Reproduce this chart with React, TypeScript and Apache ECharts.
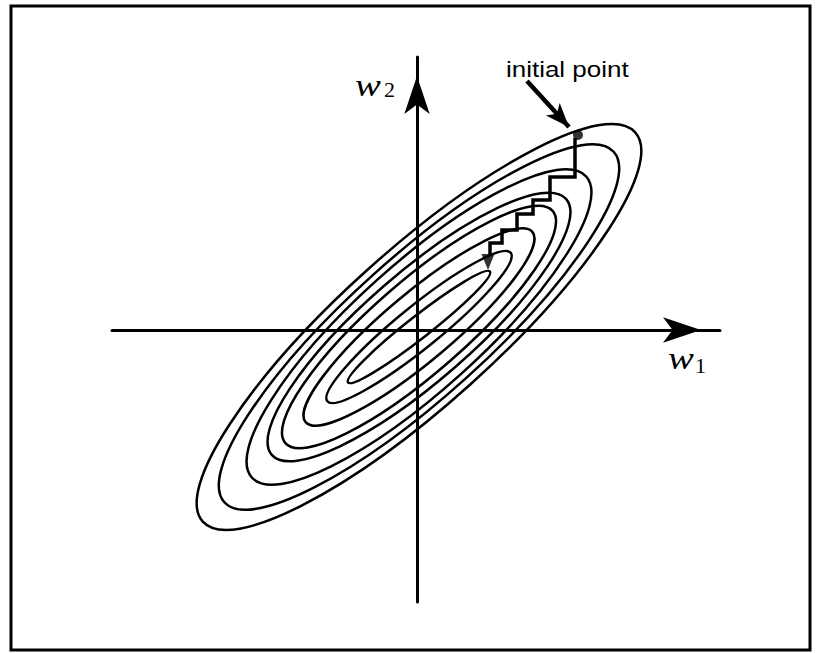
import React, { useEffect, useRef } from "react";
import * as echarts from "echarts";

// Error-surface contours: semi-major, semi-minor (axis units) and tilt (degrees)
const contourMajor = [291, 262, 225, 195, 177, 148, 118, 90];
const contourMinor = [77, 69.5, 63, 54, 46, 34, 21, 11];
const contourTilt = [42, 42, 42, 41, 41, 40, 39, 38];
const contourCenter = [2, 3];

// Successive line searches: alternate moves along w2 and w1
const pathW1 = [158, 158, 133, 133, 116, 116, 100, 100, 85, 85, 73, 73];
const pathW2 = [192, 153, 153, 130, 130, 116, 116, 100, 100, 87, 87, 75];
const pathEnd = [71, 68];
const initialPoint = [161, 195];
const pointerFrom = [110, 249];
const pointerTo = [152, 203];

// Extent of the w1 / w2 axes
const w1Range = [-305, 303];
const w2Range = [-272, 273];

const serif = "'Liberation Serif', 'Times New Roman', serif";
const sans = "'Liberation Sans', Arial, sans-serif";

export default function App() {
  const ref = useRef<HTMLDivElement>(null);

  useEffect(() => {
    if (!ref.current) return;
    const chart = echarts.init(ref.current, undefined, { renderer: "svg" });

    const contours = contourMajor.map((a, i) => [a, contourMinor[i], contourTilt[i]]);
    const path = pathW1.map((x, i) => [x, pathW2[i]]);

    const axisCommon = {
      type: "value" as const,
      axisTick: { show: false },
      axisLabel: { show: false },
      splitLine: { show: false },
    };

    chart.setOption({
      animation: false,
      backgroundColor: "#fff",
      grid: { left: 112, right: 98, top: 57, bottom: 51, containLabel: false },
      xAxis: {
        ...axisCommon,
        min: w1Range[0],
        max: w1Range[1],
        axisLine: {
          show: true,
          onZero: true,
          symbol: ["none", "arrow"],
          symbolSize: [19, 38],
          symbolOffset: [0, -19],
          lineStyle: { color: "#000", width: 3 },
        },
      },
      yAxis: {
        ...axisCommon,
        min: w2Range[0],
        max: w2Range[1],
        axisLine: {
          show: true,
          onZero: true,
          symbol: ["none", "arrow"],
          symbolSize: [19, 38],
          symbolOffset: [0, -19],
          lineStyle: { color: "#000", width: 3 },
        },
      },
      series: [
        {
          type: "custom",
          name: "contours",
          silent: true,
          data: contours,
          renderItem: (_params: any, api: any) => {
            const c = api.coord(contourCenter);
            const rx = api.size([api.value(0), 0])[0];
            const ry = api.size([0, api.value(1)])[1];
            return {
              type: "ellipse",
              x: c[0],
              y: c[1],
              rotation: (api.value(2) * Math.PI) / 180,
              shape: { cx: 0, cy: 0, rx, ry },
              style: { fill: "none", stroke: "#000", lineWidth: 2.5 },
            };
          },
        },
        {
          type: "line",
          name: "path",
          silent: true,
          data: path,
          showSymbol: false,
          symbol: "none",
          lineStyle: { color: "#000", width: 3.5, join: "miter" },
          markLine: {
            silent: true,
            symbol: ["none", "arrow"],
            symbolSize: [14, 24],
            label: { show: false },
            lineStyle: { color: "#000", width: 4.5, type: "solid" },
            data: [[{ coord: pointerFrom }, { coord: pointerTo }]],
          },
        },
        {
          type: "scatter",
          name: "end",
          silent: true,
          data: [pathEnd],
          symbol: "triangle",
          symbolRotate: 180,
          symbolSize: [13, 16],
          itemStyle: { color: "#000" },
        },
        {
          type: "scatter",
          name: "start",
          silent: true,
          data: [initialPoint],
          symbol: "circle",
          symbolSize: 10,
          itemStyle: { color: "#000" },
        },
      ],
      graphic: [
        {
          type: "rect",
          silent: true,
          shape: { x: 11, y: 6, width: 799, height: 644 },
          style: { fill: "none", stroke: "#000", lineWidth: 3 },
        },
        {
          type: "text",
          x: 506,
          y: 69,
          scaleX: 1.18,
          style: {
            text: "initial point",
            font: `22px ${sans}`,
            fill: "#000",
            textAlign: "left",
            textVerticalAlign: "middle",
          },
        },
        {
          type: "text",
          x: 355,
          y: 86,
          scaleX: 1.25,
          style: {
            text: "w",
            font: `italic 31px ${serif}`,
            fill: "#000",
            textAlign: "left",
            textVerticalAlign: "middle",
          },
        },
        {
          type: "text",
          x: 384,
          y: 89,
          style: {
            text: "2",
            font: `22px ${serif}`,
            fill: "#000",
            textAlign: "left",
            textVerticalAlign: "middle",
          },
        },
        {
          type: "text",
          x: 668,
          y: 359,
          scaleX: 1.25,
          style: {
            text: "w",
            font: `italic 31px ${serif}`,
            fill: "#000",
            textAlign: "left",
            textVerticalAlign: "middle",
          },
        },
        {
          type: "text",
          x: 695,
          y: 365,
          style: {
            text: "1",
            font: `22px ${serif}`,
            fill: "#000",
            textAlign: "left",
            textVerticalAlign: "middle",
          },
        },
      ],
    });

    return () => chart.dispose();
  }, []);

  return (
    <div
      ref={ref}
      style={{ position: "absolute", left: 0, top: 0, width: 818, height: 653 }}
    />
  );
}
